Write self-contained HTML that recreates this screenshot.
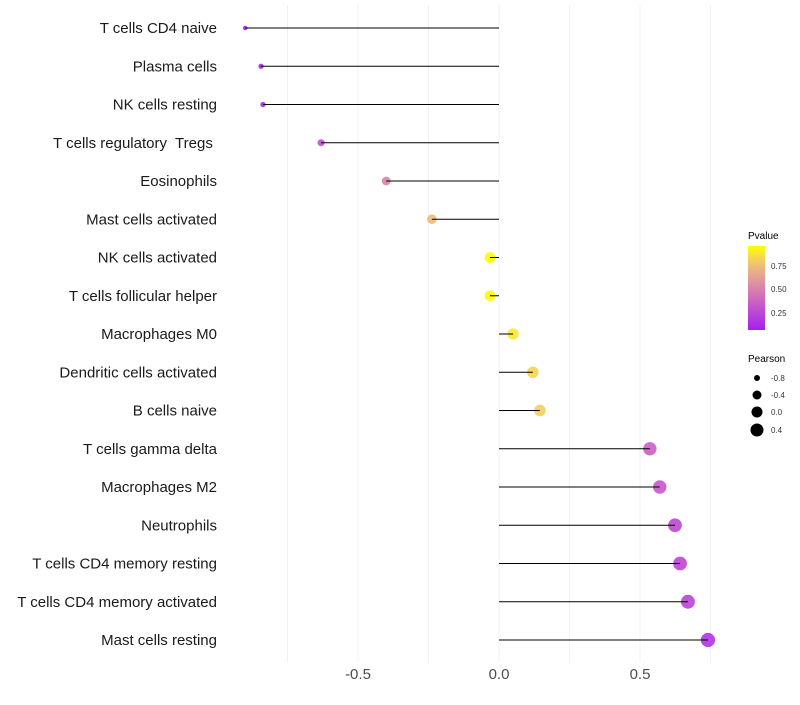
<!DOCTYPE html>
<html><head><meta charset="utf-8"><style>
body{margin:0;background:#fff;font-family:"Liberation Sans",sans-serif}
svg text{font-family:"Liberation Sans",sans-serif;white-space:pre}
</style></head><body>
<svg id="chart" width="800" height="700" xmlns="http://www.w3.org/2000/svg">
<defs><linearGradient id="pg" x1="0" y1="1" x2="0" y2="0">
<stop offset="0" stop-color="#a41ff0"/><stop offset="0.3" stop-color="#c85ac8"/><stop offset="0.55" stop-color="#dd8fa3"/><stop offset="0.8" stop-color="#f2c670"/><stop offset="1" stop-color="#ffff00"/>
</linearGradient></defs>
<g id="grid"></g>
<g id="marks"></g>
<g id="labels"></g>
<g id="xt"></g>
<g>
<text x="748" y="239" font-size="10" fill="#000">Pvalue</text>
<rect x="748" y="246" width="17" height="84" fill="url(#pg)"/>
<text x="771" y="269" font-size="8" fill="#333">0.75</text>
<text x="771" y="292" font-size="8" fill="#333">0.50</text>
<text x="771" y="316" font-size="8" fill="#333">0.25</text>
</g>
<g>
<text x="748" y="362" font-size="10" fill="#000">Pearson</text>
<circle cx="757" cy="378" r="3" fill="#000"/><text x="771" y="381" font-size="8" fill="#333">-0.8</text>
<circle cx="757" cy="395" r="4.5" fill="#000"/><text x="771" y="398" font-size="8" fill="#333">-0.4</text>
<circle cx="757" cy="412" r="5.5" fill="#000"/><text x="771" y="415" font-size="8" fill="#333">0.0</text>
<circle cx="757" cy="430" r="6.5" fill="#000"/><text x="771" y="433" font-size="8" fill="#333">0.4</text>
</g>
</svg>
<script>
const categories=["T cells CD4 naive","Plasma cells","NK cells resting","T cells regulatory  Tregs ","Eosinophils","Mast cells activated","NK cells activated","T cells follicular helper","Macrophages M0","Dendritic cells activated","B cells naive","T cells gamma delta","Macrophages M2","Neutrophils","T cells CD4 memory resting","T cells CD4 memory activated","Mast cells resting"];
const pearson=[-0.90,-0.844,-0.837,-0.631,-0.40,-0.238,-0.032,-0.032,0.05,0.12,0.145,0.535,0.57,0.624,0.642,0.67,0.741];
const pvalue=[0.02,0.03,0.04,0.25,0.5,0.75,0.98,0.98,0.92,0.85,0.83,0.32,0.28,0.2,0.2,0.18,0.1];
const xTicks=[-0.5,0,0.5];
const xMinor=[-0.75,-0.25,0.25,0.75];
const NS="http://www.w3.org/2000/svg";
const xs=v=>499+v*282;
const ys=i=>28+i*38.25;
const rs=v=>Math.sqrt(Math.max(3,30+27.5*v));
const stops=[[0,[164,31,240]],[0.3,[200,90,200]],[0.55,[221,143,163]],[0.8,[242,198,112]],[1,[255,255,0]]];
function col(p){for(let i=1;i<stops.length;i++){if(p<=stops[i][0]){const a=stops[i-1],b=stops[i],t=(p-a[0])/(b[0]-a[0]);return "rgb("+a[1].map((c,k)=>Math.round(c+(b[1][k]-c)*t)).join(",")+")";}}return "rgb(255,255,0)";}
function mk(t,at,parent){const e=document.createElementNS(NS,t);for(const k in at)e.setAttribute(k,at[k]);parent.appendChild(e);return e;}
const grid=document.getElementById('grid'),marks=document.getElementById('marks'),labels=document.getElementById('labels'),xt=document.getElementById('xt');
xMinor.concat(xTicks).forEach(v=>{const l=mk('line',{x1:xs(v),x2:xs(v),y1:5,y2:662,stroke:'#f0f0f0','stroke-width':1},grid);

});
categories.forEach((c,i)=>{
const y=ys(i);
const g=mk('circle',{cx:xs(pearson[i]),cy:y,r:rs(pearson[i]),fill:col(pvalue[i]),opacity:0.9},marks);


const l=mk('line',{x1:xs(0),x2:xs(pearson[i]),y1:y,y2:y,stroke:'#000','stroke-width':1},marks);


const t=mk('text',{x:217,y:y+5,'text-anchor':'end','font-size':15,fill:'#1a1a1a'},labels);
t.textContent=c;


});
xTicks.forEach(v=>{const t=mk('text',{x:xs(v),y:679,'text-anchor':'middle','font-size':15,fill:'#4d4d4d'},xt);
t.textContent=v===0?"0.0":v.toFixed(1);

});
</script>
</body></html>
